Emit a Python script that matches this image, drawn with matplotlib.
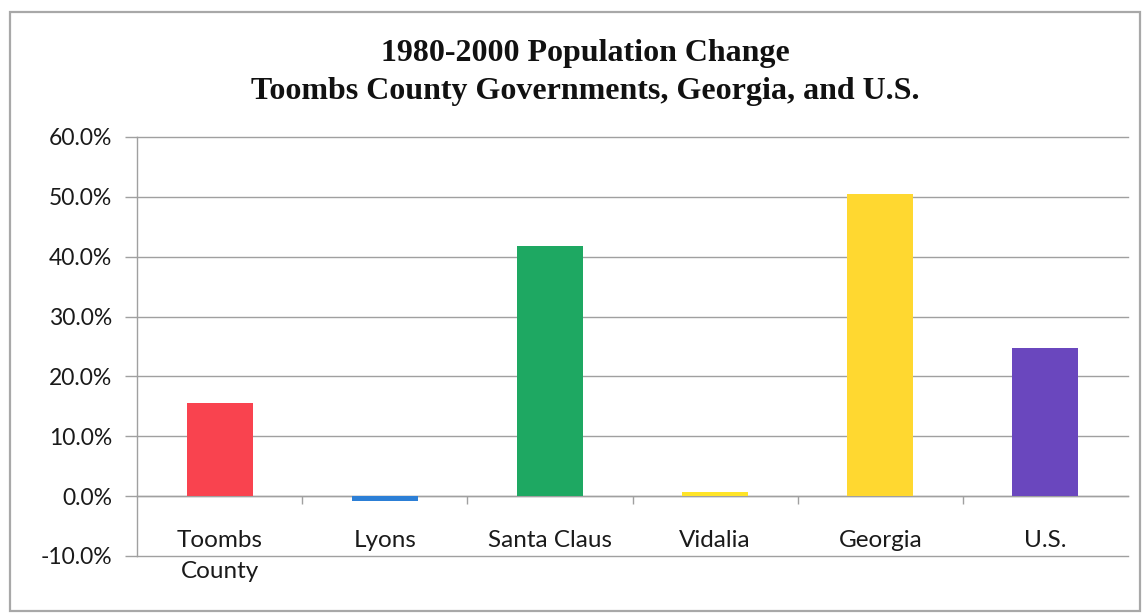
import matplotlib
matplotlib.use("Agg")
import matplotlib.pyplot as plt
from matplotlib.patches import Rectangle
from matplotlib.ticker import FixedLocator, FuncFormatter

# Population change 1980-2000, percent
categories = ["Toombs\nCounty", "Lyons", "Santa Claus", "Vidalia", "Georgia", "U.S."]
pct_change = [15.5, -0.8, 41.8, 0.7, 50.5, 24.8]
bar_colors = ["#F9434F", "#2C7FD6", "#1EA862", "#FFE428", "#FFD830", "#6A47BE"]
y_ticks = [-10, 0, 10, 20, 30, 40, 50, 60]
title_lines = ["1980-2000 Population Change",
               "Toombs County Governments, Georgia, and U.S."]

W, H = 1146, 614
fig = plt.figure(figsize=(W / 100, H / 100), dpi=100)
fig.patch.set_facecolor("white")

# outer chart frame
fig.patches.append(Rectangle((10 / W, 3 / H), 1130 / W, (H - 15) / H,
                             transform=fig.transFigure, fill=False,
                             edgecolor="#a8a8a8", linewidth=1.6))

left, right, top, bottom = 137, 1128, 137, 556
ax = fig.add_axes([left / W, 1 - bottom / H, (right - left) / W, (bottom - top) / H])

x = list(range(len(categories)))
ax.bar(x, pct_change, width=0.4, color=bar_colors, zorder=3)

ax.set_xlim(-0.5, len(categories) - 0.5)
ax.set_ylim(-10, 60)
ax.yaxis.set_major_locator(FixedLocator(y_ticks))
ax.yaxis.set_major_formatter(FuncFormatter(lambda v, _: f"{v:.1f}%"))
ax.grid(axis="y", color="#a0a0a0", linewidth=1.0, zorder=0)
for gl in ax.get_ygridlines():
    gl.set_clip_on(False)

for s in ["top", "right"]:
    ax.spines[s].set_visible(False)
ax.spines["left"].set_color("#a0a0a0")
ax.spines["left"].set_linewidth(1.0)
ax.spines["bottom"].set_position(("data", 0))
ax.spines["bottom"].set_color("#a0a0a0")
ax.spines["bottom"].set_linewidth(1.0)

ax.tick_params(axis="y", direction="out", length=9, color="#a0a0a0", width=1.0,
               labelsize=16.5, labelcolor="#1a1a1a", pad=9)
for lbl in ax.get_yticklabels():
    lbl.set_family("Lato")

# category separators on the zero line
ax.xaxis.set_major_locator(FixedLocator([i + 0.5 for i in x[:-1]]))
ax.tick_params(axis="x", direction="out", length=6, color="#a0a0a0", width=1.0,
               labelbottom=False)

for xi, name in zip(x, categories):
    ax.text(xi, -5.6, name, ha="center", va="top", fontsize=17.5, family="Lato",
            color="#1a1a1a", linespacing=1.6)

fig.text(585 / W, 1 - 53 / H, title_lines[0], ha="center", va="center",
         fontsize=23, fontweight="bold", family="Liberation Serif", color="#111111")
fig.text(585 / W, 1 - 92 / H, title_lines[1], ha="center", va="center",
         fontsize=23, fontweight="bold", family="Liberation Serif", color="#111111")

fig.savefig("out.png", dpi=100, facecolor="white")
